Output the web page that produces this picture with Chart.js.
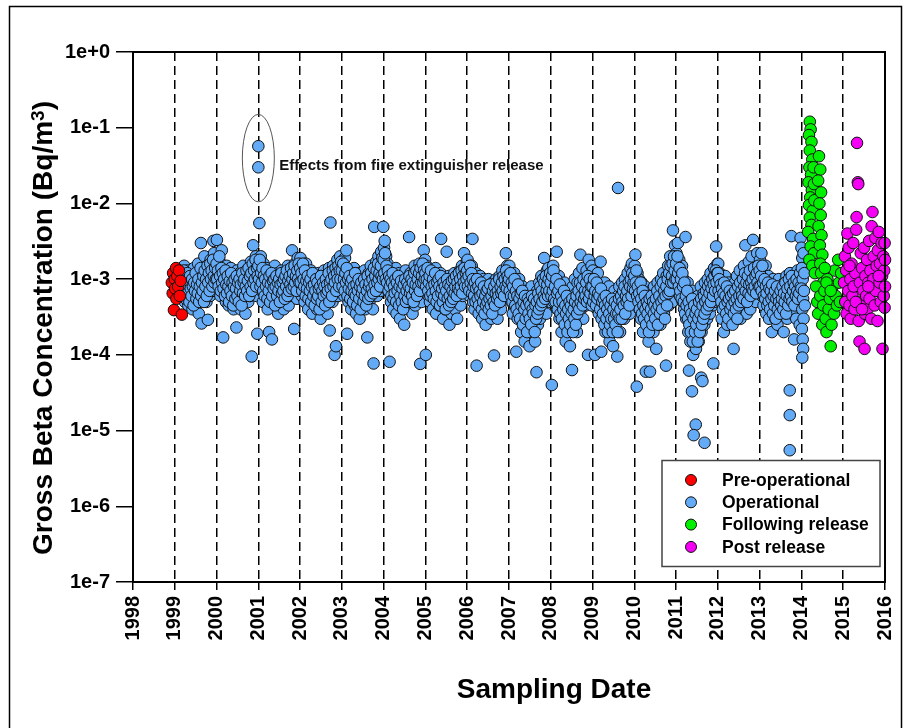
<!DOCTYPE html>
<html>
<head>
<meta charset="utf-8">
<script src="https://cdn.jsdelivr.net/npm/chart.js@4.4.0/dist/chart.umd.min.js"></script>
<style>
  html, body { margin: 0; padding: 0; background: #fff; }
  #wrap { width: 906px; height: 728px; }
</style>
</head>
<body>
<div id="wrap"><canvas id="betaChart" width="906" height="728"></canvas></div>
<script>
// values are in mBq/m3 (1 mBq/m3 = 1e-3 Bq/m3), converted when the datasets are built
const MBQ = 1e-3;

// pre-operational samples [date, mBq/m3]
const preOperational = [
  [1998.93, 0.9], [1998.95, 0.65], [1998.96, 1.2], [1998.98, 0.39], [1999.0, 1.0],
  [1999.01, 0.75], [1999.03, 1.4], [1999.04, 0.55], [1999.06, 1.1], [1999.08, 0.8],
  [1999.1, 1.3], [1999.12, 0.6], [1999.14, 0.95], [1999.17, 0.34]
];

// operational samples, 60 periods per year, one row per year
const opYears = [1999, 2000, 2001, 2002, 2003, 2004, 2005, 2006, 2007, 2008, 2009, 2010, 2011, 2012, 2013];
const samplesPerYear = 60;

// sampler A, middle of each period
const opByYear = [
  [null,null,null,null,null,null,null,null,null, 1.2,0.6,0.95,0.75,1.5, 0.5,1.1,0.8,0.65,1.3, 0.45,0.9,1.2,0.7,0.55, 1.0,0.4,0.8,1.4,0.6, 0.9,0.7,1.1,0.5,1.6, 0.35,0.8,1.0,3.0,0.26, 0.65,1.3,0.9,2.0,0.7, 1.2,0.5,1.5,0.29,0.85, 1.1,0.6,1.8,0.9,1.4, 0.7,3.2,2.2,1.0,1.6, 0.8],
  [3.3,1.4,0.8,1.9,1.1, 0.6,1.6,2.4,0.9,0.17, 1.3,0.7,1.0,0.5,1.5, 0.8,1.2,0.45,0.95,0.65, 1.4,0.55,1.0,0.75,0.4, 1.1,0.6,0.85,0.23,1.3, 0.5,0.9,0.7,1.2,0.4, 0.8,1.0,0.55,1.5,0.65, 0.9,0.35,1.2,0.75,1.0, 0.5,1.4,0.8,0.6,1.7, 0.095,1.1,2.8,0.7,1.3, 0.9,2.0,0.6,0.19,1.5],
  [1.8,5.5,1.0,2.0,0.7, 1.3,0.5,1.6,0.9,1.1, 0.6,1.4,0.8,0.4,1.2, 0.2,0.95,0.7,1.3,0.16, 0.55,1.0,0.8,1.5,0.45, 0.9,0.65,1.2,0.35,0.8, 1.1,0.5,0.75,1.3,0.6, 0.95,0.4,1.2,0.7,0.55, 1.0,0.8,1.5,0.45,0.9, 0.6,1.3,0.8,2.4,1.1, 0.7,0.22,1.6,0.9,1.2, 0.55,1.9,1.0,1.4,0.75],
  [1.9,1.0,0.6,1.5,0.8, 1.2,0.5,0.9,1.6,0.7, 1.0,0.4,1.2,0.8,0.55, 1.3,0.65,0.35,0.9,0.6, 1.1,0.45,0.8,1.0,0.4, 0.7,1.2,0.5,0.85,0.3, 0.6,1.0,0.45,0.75,1.3, 0.5,0.9,0.65,1.1,0.35, 0.8,1.4,0.21,5.6,0.6, 1.0,0.5,1.5,0.75,0.1, 1.2,0.13,0.9,1.8,0.6, 1.3,0.8,2.0,1.0,1.5],
  [1.6,0.9,1.2,0.6,1.9, 0.8,2.4,0.19,1.0,0.5, 1.3,0.7,0.9,0.4,1.1, 0.6,0.8,1.4,0.45,0.95, 0.35,0.7,1.0,0.55,1.2, 0.3,0.8,0.6,1.1,0.45, 0.9,0.65,1.3,0.4,0.75, 1.0,0.17,0.6,1.2,0.5, 0.85,1.5,0.7,1.0,0.4, 0.077,4.9,1.3,0.8,1.7, 0.6,1.1,2.0,0.9,1.4, 0.7,2.3,1.2,1.8,4.9],
  [2.6,3.2,1.4,2.0,0.9, 1.6,0.7,1.2,0.081,1.0, 0.5,1.3,0.8,0.4,1.1, 0.6,0.9,1.4,0.35,0.75, 1.0,0.5,1.2,0.3,0.8, 0.6,1.1,0.45,0.9,0.25, 0.7,1.3,0.55,1.0,0.4, 0.85,3.6,0.6,1.2,0.5, 0.9,0.35,1.1,0.7,1.5, 0.45,0.8,1.0,0.6,1.3, 0.75,1.6,0.076,1.1,0.5, 1.4,0.9,2.4,1.2,1.8],
  [0.1,1.5,0.8,1.2,0.6, 1.0,0.5,1.3,0.7,0.9, 0.4,1.1,0.6,0.8,1.4, 0.35,0.9,0.55,1.0,0.45, 0.75,1.2,3.4,0.5,0.85, 0.3,0.7,1.0,0.4,0.6, 2.3,0.9,0.45,1.1,0.25, 0.65,0.8,0.35,1.0,0.5, 0.75,1.2,0.4,0.6,0.9, 0.3,1.1,0.55,0.8,1.3, 0.45,0.95,1.5,0.6,1.0, 2.2,0.7,1.4,0.85,1.7],
  [1.8,0.9,1.3,0.6,1.1, 0.75,1.5,3.4,0.5,1.0, 0.4,0.8,1.2,0.072,0.6, 0.9,0.35,0.7,1.1,0.45, 0.8,0.3,0.6,1.0,0.5, 0.7,0.25,0.9,0.4,0.55, 1.0,0.35,0.65,0.8,0.3, 0.55,0.9,0.4,0.098,0.7, 0.45,1.0,0.6,0.3,0.8, 0.5,1.1,0.7,0.4,0.9, 1.3,0.55,0.8,1.0,0.6, 2.2,0.9,1.5,0.7,1.2],
  [1.5,0.8,1.1,0.5,0.9, 0.35,0.7,1.2,0.45,0.6, 0.11,0.8,0.3,0.55,1.0, 0.4,0.65,0.2,0.5,0.8, 0.3,0.45,0.15,0.6,0.35, 0.7,0.25,0.5,0.4,0.13, 0.55,0.3,0.8,0.2,0.45, 0.6,0.35,0.15,0.5,0.059, 0.7,0.25,0.45,0.9,0.3, 0.6,1.1,0.4,0.8,0.5, 1.9,0.7,1.0,0.35,1.3, 0.6,1.4,0.8,1.1,0.5],
  [1.2,0.04,0.8,1.5,0.5, 1.0,0.6,0.9,2.3,0.4, 0.7,1.1,0.3,0.55,0.8, 0.2,0.45,0.65,0.3,0.9, 0.4,0.15,0.55,0.35,0.7, 0.25,0.5,0.13,0.6,0.4, 0.063,0.8,0.3,0.5,1.0, 0.35,0.65,0.2,0.9,0.45, 1.2,0.6,2.1,0.4,0.8, 1.4,0.3,0.7,0.5,1.0, 0.45,1.3,0.6,0.1,1.8, 0.8,1.1,0.5,1.5,0.7],
  [1.3,0.7,1.0,0.1,0.5, 0.9,0.4,1.2,0.6,0.8, 0.35,1.7,0.11,0.55,0.7, 0.3,0.5,0.9,0.2,0.45, 0.65,0.25,0.4,0.8,0.15, 0.5,0.3,0.6,0.35,0.13, 0.45,0.7,0.25,0.55,0.4, 0.095,0.6,0.3,0.8,0.2, 0.5,0.35,0.9,0.45,0.65, 0.3,1.0,0.55,0.8,0.4, 1.2,0.6,0.9,0.35,1.4, 0.7,1.6,0.5,1.1,0.85],
  [1.5,2.1,0.8,0.038,1.2, 0.6,1.0,0.4,0.75,0.3, 0.9,0.5,0.2,0.65,0.35, 0.8,0.06,0.45,0.25,0.6, 0.15,0.5,0.06,0.7,0.3, 0.4,0.55,0.2,0.8,0.35, 0.6,0.12,0.45,0.9,0.3, 0.5,0.7,0.25,1.0,0.4, 0.6,1.2,0.35,0.8,0.5, 0.072,1.1,0.6,1.5,0.45, 0.9,2.0,0.7,1.3,0.5, 4.4,1.0,1.8,2.8,1.2],
  [2.2,1.4,3.0,0.9,1.8, 0.6,1.2,0.8,1.5,0.5, 1.0,0.4,0.7,3.6,0.3, 0.6,0.9,0.2,0.062,0.45, 0.15,0.5,0.3,0.7,0.1, 0.4,0.2,0.55,0.12,0.35, 0.25,0.6,0.15,0.45,0.3, 0.8,0.2,0.5,0.35,0.65, 0.25,0.9,0.4,0.6,0.3, 1.0,0.5,0.75,0.35,1.2, 0.6,0.9,0.45,0.077,1.4, 0.7,1.1,2.7,0.5,1.6],
  [1.6,0.8,1.2,0.5,0.9, 0.3,1.0,0.6,0.2,0.75, 1.1,0.4,0.7,0.25,0.55, 0.9,0.35,0.6,0.8,0.3, 0.5,0.7,0.12,0.45,0.9, 0.35,0.6,1.1,0.4,0.75, 0.5,1.3,0.3,0.8,0.6, 1.0,0.45,1.5,0.7,2.8, 0.9,0.35,1.2,0.6,1.7, 0.8,0.4,1.0,2.0,0.55, 3.3,1.1,0.7,1.4,0.5, 1.0,2.2,0.75,1.3,0.9],
  [1.8,0.9,2.2,0.6,1.3, 0.45,1.0,0.75,1.5,0.35, 0.8,0.55,1.1,0.3,0.7, 0.5,0.9,0.2,0.65,1.0, 0.4,0.75,0.3,0.55,0.85, 0.25,0.6,1.0,0.4,0.7, 0.5,0.35,0.8,0.6,0.2, 0.9,0.45,0.7,1.1,0.3, 0.55,0.8,0.4,1.2,0.6, 3.7,0.35,0.9,0.5,0.16, 1.0,0.65,0.3,0.8,1.3, 0.5,0.9,0.25,0.7,1.1]
];

// sampler B, start of each period
const opByYearB = [
  [null,null,null,null,null,null,null,null,null, 0.8,1.1,0.6,0.9,1.3, 0.7,1.0,0.55,0.85,1.2, 0.65,0.95,0.5,1.1,0.75, 0.6,1.0,0.8,0.45,0.9, 0.7,1.2,0.55,0.85,0.65, 1.0,0.5,0.8,1.4,0.6, 0.9,0.7,1.1,0.5,1.3, 0.8,1.0,0.6,1.5,0.9, 1.2,0.7,1.6,1.0,1.3, 0.8,1.8,1.1,0.9,1.4, 1.0],
  [1.6,1.0,1.3,0.8,2.0, 1.1,0.7,1.4,0.9,1.2, 0.75,1.0,0.6,1.3,0.85, 0.65,1.1,0.8,0.5,0.95, 0.7,1.2,0.6,0.9,0.45, 0.8,1.0,0.55,0.75,1.1, 0.6,0.9,0.5,1.0,0.7, 0.85,0.45,1.2,0.65,0.9, 1.0,0.6,0.8,1.3,0.7, 0.95,1.4,0.6,1.1,0.8, 1.2,0.7,1.6,0.9,1.3, 1.0,1.8,0.8,1.4,1.1],
  [1.5,1.0,1.8,0.8,1.2, 0.9,1.4,0.7,1.1,0.6, 1.0,0.8,1.3,0.55,0.9, 0.7,1.1,0.5,0.85,1.2, 0.6,0.95,0.75,1.0,0.45, 0.8,1.1,0.6,0.9,0.7, 1.0,0.5,0.85,1.2,0.65, 0.9,0.7,1.0,0.55,1.1, 0.8,1.3,0.6,0.95,0.7, 1.1,0.85,1.4,0.75,1.0, 1.2,0.8,1.5,0.9,1.1, 0.7,1.3,1.0,1.6,0.9],
  [1.4,0.9,1.2,0.7,1.6, 1.0,0.8,1.3,0.6,0.95, 0.75,1.1,0.55,0.9,0.7, 1.0,0.5,0.8,1.2,0.6, 0.85,0.45,0.7,1.0,0.55, 0.9,0.6,0.75,0.4,0.8, 1.1,0.5,0.7,0.9,0.6, 0.8,0.45,1.0,0.65,0.85, 0.7,1.2,0.5,0.9,0.75, 1.0,0.6,1.3,0.8,1.1, 0.9,1.4,0.7,1.2,1.0, 1.5,0.8,1.3,1.0,1.7],
  [1.3,0.8,1.6,1.0,0.7, 1.2,0.9,1.4,0.6,1.0, 0.75,1.1,0.55,0.9,0.7, 1.0,0.5,0.8,0.65,1.2, 0.6,0.85,0.45,0.7,1.0, 0.55,0.8,0.4,0.9,0.65, 0.75,0.5,1.0,0.6,0.85, 0.45,0.7,1.1,0.55,0.8, 0.9,0.6,1.2,0.75,1.0, 0.65,1.4,0.85,1.1,0.7, 1.3,0.9,1.6,1.0,1.2, 0.8,1.5,1.1,1.9,1.0],
  [1.8,1.2,2.2,1.0,1.5, 0.9,1.3,0.7,1.1,0.8, 1.0,0.6,0.9,1.2,0.55, 0.8,0.65,1.0,0.5,0.9, 0.7,1.1,0.45,0.8,0.6, 0.95,0.5,0.75,0.4,0.85, 0.6,1.0,0.5,0.7,0.9, 0.55,0.8,1.1,0.65,0.75, 1.0,0.6,0.9,0.5,1.2, 0.7,0.85,1.3,0.6,1.0, 0.8,1.2,0.7,1.4,0.9, 1.1,1.6,0.9,1.3,1.0],
  [1.2,0.8,1.0,1.4,0.7, 0.9,1.1,0.6,1.3,0.8, 0.65,1.0,0.55,0.85,1.2, 0.7,0.5,0.9,0.6,1.0, 0.8,0.45,1.1,0.65,0.75, 0.5,0.9,0.6,0.8,0.4, 0.7,1.0,0.55,0.85,0.45, 0.6,0.8,0.5,0.95,0.7, 0.55,1.0,0.65,0.8,1.1, 0.6,0.9,0.75,1.2,0.7, 1.0,0.8,1.3,0.65,1.1, 0.9,1.4,0.8,1.2,1.0],
  [1.3,0.8,1.1,0.7,1.5, 0.9,1.2,0.65,1.0,0.8, 0.6,0.9,0.5,0.75,1.0, 0.55,0.8,0.45,0.7,0.6, 0.9,0.4,0.65,0.5,0.8, 0.35,0.6,0.45,0.7,0.5, 0.75,0.4,0.55,0.85,0.45, 0.6,0.35,0.7,0.5,0.8, 0.45,0.65,0.9,0.55,0.7, 0.6,1.0,0.5,0.8,0.65, 0.9,0.7,1.1,0.6,1.0, 0.8,1.3,0.75,1.1,0.9],
  [1.0,0.7,1.2,0.6,0.9, 0.5,0.8,0.6,1.0,0.45, 0.7,0.4,0.6,0.85,0.35, 0.55,0.3,0.65,0.45,0.7, 0.25,0.5,0.4,0.6,0.3, 0.45,0.2,0.55,0.35,0.5, 0.3,0.45,0.25,0.6,0.4, 0.35,0.55,0.2,0.45,0.3, 0.5,0.35,0.65,0.4,0.55, 0.8,0.45,0.7,0.5,1.0, 0.6,0.9,0.55,1.1,0.7, 0.85,0.6,1.0,0.7,1.2],
  [0.9,0.6,1.1,0.7,1.3, 0.55,0.8,0.5,1.0,0.65, 0.4,0.7,0.5,0.85,0.35, 0.6,0.3,0.5,0.4,0.7, 0.25,0.45,0.35,0.6,0.2, 0.4,0.3,0.5,0.25,0.45, 0.35,0.55,0.2,0.4,0.3, 0.5,0.25,0.6,0.35,0.45, 0.7,0.4,0.9,0.5,0.6, 0.8,0.45,1.0,0.55,0.7, 0.6,0.9,0.5,1.1,0.7, 0.55,1.0,0.65,0.8,0.45],
  [0.8,0.5,1.0,0.6,0.7, 0.45,0.9,0.55,0.65,0.35, 0.6,0.4,0.75,0.3,0.5, 0.35,0.55,0.25,0.45,0.6, 0.3,0.4,0.2,0.5,0.35, 0.25,0.45,0.3,0.55,0.2, 0.4,0.3,0.5,0.25,0.35, 0.45,0.2,0.35,0.55,0.3, 0.4,0.6,0.3,0.5,0.7, 0.45,0.8,0.35,0.6,0.5, 0.7,0.55,0.9,0.45,0.8, 1.0,0.6,1.2,0.75,0.9],
  [1.1,0.7,0.9,1.3,0.6, 0.8,0.5,0.65,0.4,0.9, 0.55,0.35,0.7,0.45,0.3, 0.6,0.4,0.25,0.5,0.35, 0.45,0.2,0.55,0.3,0.4, 0.6,0.25,0.5,0.35,0.45, 0.3,0.55,0.4,0.7,0.25, 0.45,0.6,0.35,0.8,0.5, 0.4,0.9,0.55,0.7,0.3, 0.6,0.8,0.45,1.0,0.65, 1.2,0.7,1.5,0.9,1.1, 1.6,0.9,2.0,1.3,1.0],
  [1.6,1.0,2.0,1.2,0.8, 1.4,0.7,1.0,0.55,1.2, 0.8,0.5,0.9,0.35,0.6, 0.45,0.7,0.3,0.5,0.25, 0.4,0.2,0.35,0.55,0.15, 0.3,0.45,0.2,0.35,0.25, 0.4,0.15,0.3,0.5,0.2, 0.35,0.55,0.25,0.45,0.3, 0.6,0.35,0.5,0.7,0.4, 0.55,0.8,0.45,0.65,0.9, 0.5,0.75,1.0,0.6,0.85, 1.1,0.7,1.3,0.9,1.2],
  [1.2,0.7,1.0,0.6,0.85, 0.5,0.75,0.4,0.65,0.9, 0.45,0.6,0.35,0.8,0.5, 0.3,0.55,0.7,0.4,0.6, 0.45,0.25,0.65,0.35,0.5, 0.7,0.4,0.55,0.3,0.8, 0.45,0.6,0.9,0.5,0.7, 0.6,1.0,0.55,0.8,1.2, 0.7,0.9,0.5,1.1,0.65, 0.85,1.3,0.6,0.9,0.75, 1.0,0.7,1.4,0.8,1.1, 0.65,1.2,0.9,1.5,0.8],
  [1.3,0.8,1.1,0.7,1.5, 0.9,0.6,1.0,0.55,0.8, 0.65,0.45,0.9,0.5,0.75, 0.4,0.7,0.55,0.85,0.35, 0.6,0.45,0.7,0.3,0.55, 0.8,0.4,0.6,0.5,0.35, 0.7,0.45,0.55,0.8,0.4, 0.65,0.5,0.9,0.35,0.6, 0.75,0.45,1.0,0.55,0.8, 0.6,1.1,0.5,0.7,0.9, 0.45,0.8,0.6,1.0,0.7, 0.55,0.9,0.65,1.2,0.8]
];

// operational samples off the regular grid (fire extinguisher, deep lows, early 2014) [date, mBq/m3]
const opExtra = [
  [2001.0, 57], [2001.0, 30], [2009.61, 16],
  [2011.38, 0.033], [2011.47, 0.012], [2011.42, 0.0087], [2011.68, 0.0069], [2011.6, 0.05], [2011.63, 0.045],
  [2013.72, 0.034], [2013.72, 0.016], [2013.72, 0.0055],
  [2013.98, 3.5], [2014.0, 2.6], [2014.02, 1.9], [2014.01, 1.4], [2014.03, 1.0], [2014.0, 0.75],
  [2014.04, 0.55], [2014.02, 0.4], [2014.05, 0.3], [2014.01, 0.22], [2014.03, 0.16], [2014.04, 0.12],
  [2014.02, 0.092], [2014.06, 0.7], [2014.07, 1.2], [2014.08, 0.45], [2014.05, 2.2]
];

// following release [date, mBq/m3]
const followingRelease = [
  [2014.2, 120], [2014.22, 95], [2014.18, 80], [2014.24, 65], [2014.2, 50], [2014.26, 38], [2014.19, 30],
  [2014.23, 24], [2014.17, 19], [2014.25, 15], [2014.21, 12], [2014.18, 9.5], [2014.27, 8], [2014.2, 6.5],
  [2014.24, 5.2], [2014.16, 4.2], [2014.28, 3.4], [2014.22, 2.7], [2014.3, 2.2], [2014.19, 1.8],
  [2014.26, 1.5], [2014.32, 1.2], [2014.29, 30], [2014.3, 18], [2014.31, 11],
  [2014.42, 42], [2014.45, 28], [2014.4, 20], [2014.47, 14], [2014.43, 10], [2014.46, 7], [2014.41, 5],
  [2014.48, 3.8], [2014.44, 2.8], [2014.5, 2.1], [2014.45, 1.6], [2014.47, 1.2], [2014.52, 0.9],
  [2014.35, 0.8], [2014.38, 0.5], [2014.4, 0.35], [2014.45, 0.6], [2014.5, 0.25], [2014.52, 0.45],
  [2014.55, 0.7], [2014.58, 0.3], [2014.6, 0.2], [2014.62, 1.0], [2014.65, 0.4], [2014.68, 0.55],
  [2014.7, 0.13], [2014.72, 0.25], [2014.75, 0.8], [2014.78, 0.35], [2014.8, 1.3], [2014.82, 0.6],
  [2014.85, 0.45], [2014.88, 1.8], [2014.9, 0.9], [2014.92, 0.5], [2014.95, 1.2], [2014.6, 0.9],
  [2014.7, 0.7], [2014.56, 1.4]
];

// post release [date, mBq/m3]
const postRelease = [
  [2015.02, 0.9], [2015.04, 2.0], [2015.05, 0.5], [2015.07, 1.3], [2015.08, 0.35], [2015.1, 4.0],
  [2015.12, 0.7], [2015.13, 2.6], [2015.15, 0.45], [2015.17, 1.0], [2015.18, 0.3], [2015.2, 1.6],
  [2015.22, 0.6], [2015.24, 3.0], [2015.25, 0.8], [2015.27, 0.4], [2015.29, 1.2], [2015.31, 4.5],
  [2015.32, 6.6], [2015.33, 63], [2015.35, 19], [2015.36, 18], [2015.37, 0.28], [2015.39, 0.15],
  [2015.4, 0.9], [2015.42, 2.2], [2015.44, 0.5], [2015.45, 1.4], [2015.51, 0.12], [2015.48, 0.7],
  [2015.5, 2.6], [2015.52, 0.35], [2015.53, 1.1], [2015.55, 0.6], [2015.57, 1.8], [2015.58, 0.4],
  [2015.6, 0.9], [2015.62, 3.2], [2015.63, 0.55], [2015.65, 1.3], [2015.67, 0.3], [2015.68, 5.0],
  [2015.7, 7.7], [2015.72, 1.0], [2015.73, 2.0], [2015.75, 0.45], [2015.77, 3.5], [2015.78, 0.7],
  [2015.8, 1.5], [2015.82, 0.28], [2015.83, 2.4], [2015.85, 4.2], [2015.87, 0.9], [2015.88, 1.6],
  [2015.9, 0.5], [2015.92, 3.0], [2015.93, 1.1], [2015.94, 0.12], [2015.96, 2.0], [2015.97, 0.6],
  [2015.98, 1.3], [2015.99, 3.0], [2016.0, 0.8], [2016.0, 1.8], [2015.99, 0.42], [2015.6, 0.8],
  [2015.3, 0.5], [2015.15, 1.5], [2015.85, 1.1], [2015.45, 0.4]
];

// axes
const yTickValues = [1, 1e-1, 1e-2, 1e-3, 1e-4, 1e-5, 1e-6, 1e-7];
const yTickLabels = ["1e+0", "1e-1", "1e-2", "1e-3", "1e-4", "1e-5", "1e-6", "1e-7"];
const xMin = 1998, xMax = 2016;

// annotation around the fire extinguisher points
const fireNote = { date: 2001.0, top: 0.15, bottom: 0.0105, textValue: 0.031, text: "Effects from fire extinguisher release" };

const FONT = "'Liberation Sans', Arial, Helvetica, sans-serif";

function toPoints(pairs) {
  return pairs.map((p) => ({ x: p[0], y: p[1] * MBQ }));
}

const operationalPts = [];
opByYear.forEach((vals, k) => {
  vals.forEach((v, i) => {
    if (v !== null) operationalPts.push({ x: opYears[k] + (i + 0.5) / samplesPerYear, y: v * MBQ });
  });
});
opByYearB.forEach((vals, k) => {
  vals.forEach((v, i) => {
    if (v !== null) operationalPts.push({ x: opYears[k] + i / samplesPerYear, y: v * MBQ });
  });
});
opExtra.forEach((p) => operationalPts.push({ x: p[0], y: p[1] * MBQ }));

// lower order is drawn on top
const datasets = [
  { label: "Pre-operational", data: toPoints(preOperational), backgroundColor: "#ff0000", order: 0 },
  { label: "Operational", data: operationalPts, backgroundColor: "#63aaf7", order: 3 },
  { label: "Following release", data: toPoints(followingRelease), backgroundColor: "#00f000", order: 2 },
  { label: "Post release", data: toPoints(postRelease), backgroundColor: "#f500f5", order: 1 },
];
datasets.forEach((d) => {
  d.borderColor = "#111";
  d.borderWidth = 1;
  d.pointRadius = 5.8;
  d.clip = false;
});

// frame, plot box, axis titles, annotation and legend
const extrasPlugin = {
  id: "extras",
  beforeDraw(chart) {
    const ctx = chart.ctx;
    ctx.save();
    ctx.strokeStyle = "#000";
    ctx.lineWidth = 1.5;
    ctx.strokeRect(9.5, 6.5, 892, 760);
    ctx.restore();
  },
  afterDraw(chart) {
    const ctx = chart.ctx;
    const a = chart.chartArea;
    const xs = chart.scales.x, ys = chart.scales.y;

    // box round the plot
    ctx.save();
    ctx.strokeStyle = "#000";
    ctx.lineWidth = 2;
    ctx.strokeRect(a.left, a.top, a.right - a.left, a.bottom - a.top);
    ctx.restore();

    // x axis title (sits right of centre in the original)
    ctx.save();
    ctx.fillStyle = "#000";
    ctx.font = "bold 28px " + FONT;
    ctx.textAlign = "center";
    ctx.textBaseline = "middle";
    ctx.fillText("Sampling Date", 554, 690);
    ctx.restore();

    // y axis title with superscript
    ctx.save();
    ctx.translate(52, 328);
    ctx.rotate(-Math.PI / 2);
    ctx.fillStyle = "#000";
    ctx.textBaseline = "alphabetic";
    const main = "Gross Beta Concentration (Bq/m", sup = "3", close = ")";
    ctx.font = "bold 28px " + FONT;
    const w1 = ctx.measureText(main).width;
    const w3 = ctx.measureText(close).width;
    ctx.font = "bold 19px " + FONT;
    const w2 = ctx.measureText(sup).width;
    const x0 = -(w1 + w2 + w3) / 2;
    ctx.font = "bold 28px " + FONT;
    ctx.fillText(main, x0, 0);
    ctx.font = "bold 19px " + FONT;
    ctx.fillText(sup, x0 + w1, -8);
    ctx.font = "bold 28px " + FONT;
    ctx.fillText(close, x0 + w1 + w2, 0);
    ctx.restore();

    // fire extinguisher annotation
    const cx = xs.getPixelForValue(fireNote.date);
    const yTop = ys.getPixelForValue(fireNote.top);
    const yBot = ys.getPixelForValue(fireNote.bottom);
    ctx.save();
    ctx.strokeStyle = "#555";
    ctx.lineWidth = 1;
    ctx.beginPath();
    ctx.ellipse(cx, (yTop + yBot) / 2, 16, (yBot - yTop) / 2, 0, 0, Math.PI * 2);
    ctx.stroke();
    ctx.fillStyle = "#111";
    ctx.font = "bold 15px " + FONT;
    ctx.textBaseline = "middle";
    ctx.fillText(fireNote.text, cx + 21, ys.getPixelForValue(fireNote.textValue));
    ctx.restore();

    // legend box
    const lx = a.right - 223, ly = a.bottom - 121.5;
    ctx.save();
    ctx.fillStyle = "#fff";
    ctx.fillRect(lx, ly, 218, 106);
    ctx.strokeStyle = "#444";
    ctx.lineWidth = 1.5;
    ctx.strokeRect(lx, ly, 218, 106);
    ctx.font = "bold 17.5px " + FONT;
    ctx.textBaseline = "middle";
    chart.data.datasets.forEach((d, i) => {
      const iy = ly + 19.5 + i * 22.3;
      ctx.beginPath();
      ctx.arc(lx + 29, iy, 5.5, 0, Math.PI * 2);
      ctx.fillStyle = d.backgroundColor;
      ctx.fill();
      ctx.strokeStyle = "#111";
      ctx.lineWidth = 1;
      ctx.stroke();
      ctx.fillStyle = "#000";
      ctx.fillText(d.label, lx + 60, iy + 1);
    });
    ctx.restore();
  },
};

new Chart(document.getElementById("betaChart"), {
  type: "scatter",
  data: { datasets: datasets },
  options: {
    responsive: false,
    animation: false,
    devicePixelRatio: 1,
    layout: { padding: { left: 0, right: 21, top: 52, bottom: 0 } },
    plugins: { legend: { display: false }, tooltip: { enabled: false } },
    scales: {
      x: {
        type: "linear",
        min: xMin,
        max: xMax,
        afterFit: (scale) => {
          scale.height = 146;
          scale.paddingLeft = 0;
          scale.paddingRight = 0;
        },
        ticks: {
          stepSize: 1,
          minRotation: 90,
          maxRotation: 90,
          padding: 6,
          color: "#000",
          font: { family: FONT, size: 20, weight: "bold" },
          callback: (v) => String(v),
        },
        grid: { color: "#000", lineWidth: 1.5, tickLength: 8 },
        border: { display: true, color: "#000", width: 2, dash: [9, 5] },
      },
      y: {
        type: "logarithmic",
        min: 1e-7,
        max: 1,
        afterFit: (scale) => { scale.width = 133; },
        afterBuildTicks: (scale) => { scale.ticks = yTickValues.map((v) => ({ value: v })); },
        ticks: {
          padding: 6,
          color: "#000",
          font: { family: FONT, size: 20, weight: "bold" },
          callback: (v, i) => yTickLabels[i],
        },
        grid: { drawOnChartArea: false, color: "#000", lineWidth: 1.5, tickLength: 17 },
        border: { display: true, color: "#000", width: 2 },
      },
    },
  },
  plugins: [extrasPlugin],
});
</script>
</body>
</html>
